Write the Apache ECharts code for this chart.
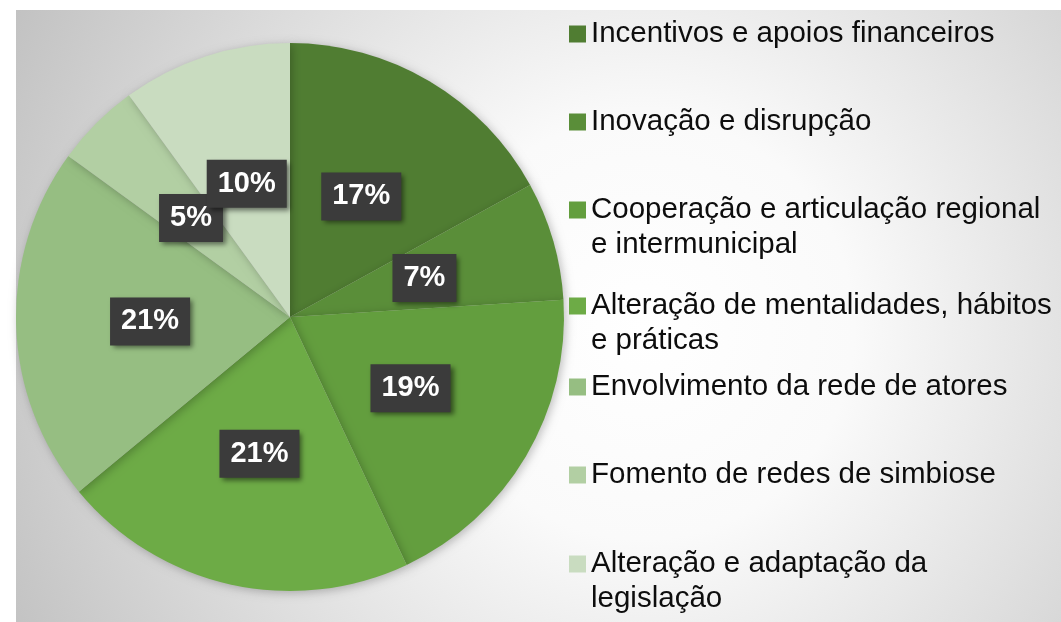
<!DOCTYPE html>
<html>
<head>
<meta charset="utf-8">
<script src="https://cdn.jsdelivr.net/npm/echarts@6/dist/echarts.min.js"></script>
<style>
  html, body { margin: 0; padding: 0; background: #fff; }
  #graph { width: 1061px; height: 622px; }
</style>
</head>
<body>
<div id="graph"></div>
<script>
// categorias (ordem da legenda / sentido horário a partir do topo)
const categories = [
  'Incentivos e apoios financeiros',
  'Inovação e disrupção',
  'Cooperação e articulação regional e intermunicipal',
  'Alteração de mentalidades, hábitos e práticas',
  'Envolvimento da rede de atores',
  'Fomento de redes de simbiose',
  'Alteração e adaptação da legislação'
]
// texto da legenda com quebra de linha
const legendLabels = [
  'Incentivos e apoios financeiros',
  'Inovação e disrupção',
  'Cooperação e articulação regional\ne intermunicipal',
  'Alteração de mentalidades, hábitos\ne práticas',
  'Envolvimento da rede de atores',
  'Fomento de redes de simbiose',
  'Alteração e adaptação da\nlegislação'
]
// percentagens
const shares = [17, 7, 19, 21, 21, 5, 10]
const colors = ['#507d32', '#5a8e39', '#639e3e', '#6dab46', '#96be82', '#b2cfa3', '#c9dcc0']

// centro do quadrado da legenda (px)
const legendCenters = [34, 122, 210, 306, 387, 475, 564]
const lineH = 35

let graph = echarts.init(document.getElementById('graph'))

let legends = categories.map((name, i) => {
  let twoLines = legendLabels[i].indexOf('\n') >= 0
  // linha vazia por cima para o quadrado ficar alinhado com a 1a linha
  let text = twoLines ? '\n' + legendLabels[i] : legendLabels[i]
  let itemH = twoLines ? lineH * 3 : lineH
  return {
    orient: 'vertical',
    left: 569,
    top: legendCenters[i] - itemH / 2,
    padding: 0,
    itemWidth: 17,
    itemHeight: 17,
    icon: 'rect',
    selectedMode: false,
    data: [name],
    formatter: () => text,
    textStyle: {
      fontFamily: 'Liberation Sans, Arial, sans-serif',
      fontSize: 29.5,
      color: '#0d0d0d',
      lineHeight: lineH
    }
  }
})

graph.setOption({
  animation: false,
  color: colors,
  graphic: [{
    type: 'rect',
    z: -10,
    silent: true,
    shape: { x: 16, y: 10, width: 1045, height: 612 },
    style: {
      fill: new echarts.graphic.RadialGradient(0.6, 0.52, 1.15, [
        { offset: 0, color: '#ffffff' },
        { offset: 0.3, color: '#fafafa' },
        { offset: 1, color: '#c2c2c2' }
      ])
    }
  }],
  legend: legends,
  series: [{
    type: 'pie',
    center: [290, 317],
    radius: 274,
    startAngle: 90,
    clockwise: true,
    avoidLabelOverlap: false,
    labelLayout: { hideOverlap: false },
    data: categories.map((name, i) => ({ name: name, value: shares[i] })),
    itemStyle: {
      shadowBlur: 10,
      shadowColor: 'rgba(0,0,0,0.25)',
      shadowOffsetX: 2,
      shadowOffsetY: 2
    },
    emphasis: { disabled: true },
    labelLine: { show: false },
    label: {
      show: true,
      position: 'inside',
      formatter: '{c}%',
      fontFamily: 'Liberation Sans, Arial, sans-serif',
      fontWeight: 'bold',
      fontSize: 29,
      lineHeight: 30,
      color: '#fff',
      backgroundColor: '#3b3b3b',
      padding: [9, 11],
      shadowBlur: 5,
      shadowColor: 'rgba(0,0,0,0.5)',
      shadowOffsetX: 3,
      shadowOffsetY: 3
    }
  }]
})
</script>
</body>
</html>
